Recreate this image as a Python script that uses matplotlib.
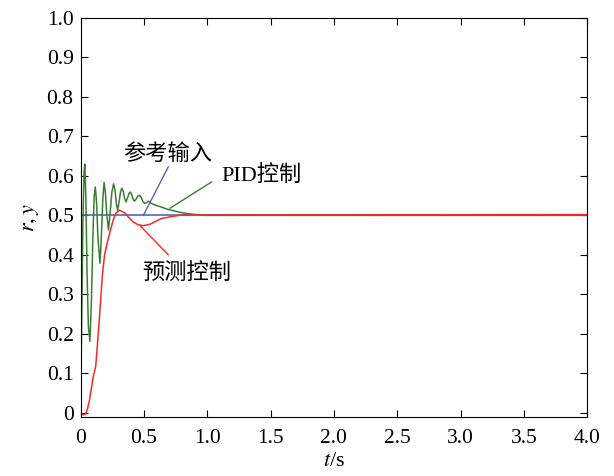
import numpy as np
import matplotlib
matplotlib.use('Agg')
import matplotlib.pyplot as plt

plt.rcParams['font.family'] = ['Liberation Serif', 'Noto Sans CJK SC']
plt.rcParams['mathtext.fontset'] = 'stix'

# reference input
ref_t = [0.0, 4.0]
ref_y = [0.5, 0.5]

# PID response
pid_t = [0, 0.01, 0.02, 0.028, 0.034, 0.042, 0.052, 0.062, 0.074, 0.086, 0.098,
         0.108, 0.117, 0.127, 0.138, 0.154, 0.165, 0.176, 0.186, 0.196, 0.208,
         0.221, 0.235, 0.248, 0.261, 0.272, 0.283, 0.293, 0.305, 0.316, 0.327,
         0.338, 0.349, 0.359, 0.372, 0.383, 0.394, 0.405, 0.416, 0.426, 0.440,
         0.453, 0.466, 0.478, 0.492, 0.505, 0.52, 0.537, 0.56, 0.6, 0.639,
         0.68, 0.719, 0.78, 0.852, 0.92, 0.98, 4.0]
pid_y = [0, 0.25, 0.5, 0.61, 0.63, 0.55, 0.35, 0.22, 0.181, 0.28, 0.45,
         0.55, 0.572, 0.53, 0.44, 0.379, 0.45, 0.54, 0.583, 0.56, 0.5,
         0.463, 0.51, 0.56, 0.580, 0.565, 0.53, 0.513, 0.535, 0.56, 0.569,
         0.56, 0.542, 0.534, 0.545, 0.556, 0.559, 0.552, 0.54, 0.536, 0.542,
         0.549, 0.551, 0.546, 0.536, 0.530, 0.532, 0.536, 0.53, 0.525, 0.521,
         0.516, 0.513, 0.508, 0.504, 0.502, 0.5, 0.5]

# predictive control response
mpc_t = [0, 0.01, 0.025, 0.04, 0.055, 0.07, 0.085, 0.1, 0.12, 0.133, 0.146,
         0.16, 0.173, 0.19, 0.213, 0.24, 0.26, 0.279, 0.306, 0.346, 0.38,
         0.413, 0.45, 0.492, 0.53, 0.559, 0.6, 0.639, 0.719, 0.8, 4.0]
mpc_y = [0, -0.003, -0.005, -0.003, 0.01, 0.03, 0.06, 0.09, 0.118, 0.17, 0.224,
         0.29, 0.35, 0.40, 0.433, 0.467, 0.49, 0.505, 0.513, 0.507, 0.495,
         0.484, 0.477, 0.474, 0.476, 0.479, 0.486, 0.492, 0.497, 0.501, 0.502]

x_ticks = [0, 0.5, 1.0, 1.5, 2.0, 2.5, 3.0, 3.5, 4.0]
x_labels = ['0', '0.5', '1.0', '1.5', '2.0', '2.5', '3.0', '3.5', '4.0']
y_ticks = [0, 0.1, 0.2, 0.3, 0.4, 0.5, 0.6, 0.7, 0.8, 0.9, 1.0]
y_labels = ['0', '0.1', '0.2', '0.3', '0.4', '0.5', '0.6', '0.7', '0.8', '0.9', '1.0']

# labels: text, text position, leader line (from curve point to text side)
labels = ['参考输入', 'PID控制', '预测控制']
label_pos = [(0.69, 0.655), (1.43, 0.600), (0.837, 0.352)]
leader_from = [(0.496, 0.5), (0.706, 0.518), (0.47, 0.474)]
leader_to = [(0.693, 0.623), (1.036, 0.585), (0.693, 0.40)]

c_ref = '#5566b0'
c_pid = '#3a7d32'
c_mpc = '#f42a2a'
colors = [c_ref, c_pid, c_mpc]

fig = plt.figure(figsize=(6.14, 4.76), dpi=100)
ax = fig.add_axes([80.5 / 614, 1 - 416.7 / 476, 506.8 / 614, 398.7 / 476])

ax.plot(ref_t, ref_y, color=c_ref, lw=1.2)
ax.plot(pid_t, pid_y, color=c_pid, lw=1.1)
ax.plot(mpc_t, mpc_y, color=c_mpc, lw=1.1)

for txt, pos, p0, p1, c in zip(labels, label_pos, leader_from, leader_to, colors):
    ax.annotate('', xy=p0, xytext=p1,
                arrowprops=dict(arrowstyle='-', color=c, lw=1, shrinkA=0, shrinkB=0))
    ax.text(pos[0], pos[1], txt, ha='center', va='center', fontsize=16)

ax.set_xlim(0, 4.0)
ax.set_ylim(-0.01, 1.0)
ax.set_xticks(x_ticks)
ax.set_xticklabels(x_labels)
ax.set_yticks(y_ticks)
ax.set_yticklabels(y_labels)
ax.tick_params(direction='in', top=True, right=True, labelsize=15.5, length=5, pad=5)
ax.tick_params(axis='x', pad=9)
ax.set_xlabel('$t$/s', fontsize=16, labelpad=3)
ax.set_ylabel('$r,y$', fontsize=16, labelpad=4)

fig.savefig('out.png', dpi=100)
